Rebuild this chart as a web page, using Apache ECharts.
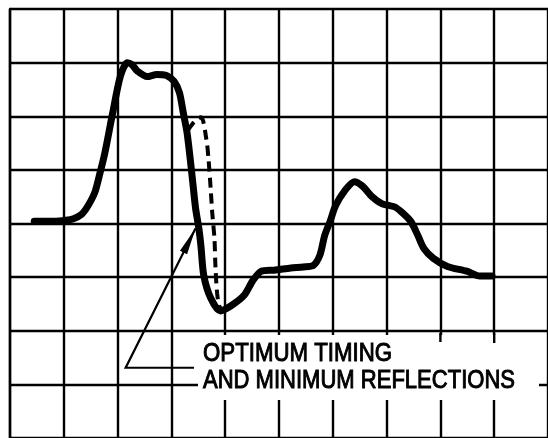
<!DOCTYPE html>
<html><head><meta charset="utf-8">
<script src="https://cdn.jsdelivr.net/npm/echarts@6/dist/echarts.min.js"></script>
<style>html,body{margin:0;padding:0;background:#fff;overflow:hidden}#c{width:548px;height:438px}</style>
</head><body><div id="c"></div>
<script>
// Solid trace (time in divisions, level in divisions)
const solidTime = [0.45,0.82,1.04,1.18,1.33,1.45,1.58,1.67,1.76,1.91,2.05,2.18,2.27,2.36,2.55,2.73,2.91,3.05,3.15,3.22,3.29,3.35,3.40,3.45,3.51,3.55,3.60,3.73,3.91,4.13,4.36,4.51,4.67,4.91,5.22,5.45,5.64,5.76,5.85,5.95,6.05,6.22,6.40,6.55,6.73,6.91,7.15,7.27,7.45,7.58,7.69,7.87,8.13,8.49,8.73,8.96];
const solidLevel = [4.04,4.04,4.06,4.09,4.17,4.33,4.59,4.93,5.30,6.07,6.74,7.00,6.96,6.85,6.74,6.78,6.76,6.65,6.44,6.07,5.70,5.20,4.74,4.28,3.91,3.57,3.04,2.61,2.37,2.48,2.67,2.93,3.11,3.13,3.17,3.19,3.22,3.41,3.78,4.04,4.33,4.61,4.78,4.70,4.50,4.37,4.31,4.22,4.04,3.78,3.54,3.35,3.20,3.11,3.02,3.02];
// Dashed trace
const dashedTime = [3.31,3.42,3.55,3.65,3.69,3.73,3.76,3.80,3.82,3.85,3.89,3.95];
const dashedLevel = [5.74,5.89,5.98,5.57,5.20,4.65,4.19,3.72,3.17,2.70,2.46,2.39];
// Annotation
const labelLines = ['OPTIMUM TIMING', 'AND MINIMUM REFLECTIONS'];
const arrowVertex = [2.15, 1.31];
const arrowTip = [3.45, 3.91];
const leaderEnd = [3.42, 1.31];

const chart = echarts.init(document.getElementById('c'), null, {renderer: 'canvas'});
const zip = (a, b) => a.map((x, i) => [x, b[i]]);
const gridLine = {color: '#000', width: 2.4};
chart.setOption({
  animation: false,
  backgroundColor: '#fff',
  grid: {left: 10, top: 9, width: 550, height: 432},
  xAxis: {type: 'value', min: 0, max: 10, interval: 1,
    axisLine: {show: false}, axisTick: {show: false}, axisLabel: {show: false},
    splitLine: {show: true, lineStyle: gridLine}},
  yAxis: {type: 'value', min: 0, max: 8, interval: 1,
    axisLine: {show: true, lineStyle: gridLine}, axisTick: {show: false}, axisLabel: {show: false},
    splitLine: {show: true, lineStyle: gridLine}},
  series: [
    {type: 'line', data: zip(dashedTime, dashedLevel), showSymbol: false, smooth: 0.3,
     lineStyle: {color: '#000', width: 4, type: [10, 6]}, z: 3},
    {type: 'line', data: zip(solidTime, solidLevel), showSymbol: false, smooth: 0.25,
     lineStyle: {color: '#000', width: 7, cap: 'round', join: 'round'}, z: 4}
  ]
});

const P = p => chart.convertToPixel({gridIndex: 0}, p);
const v = P(arrowVertex), t = P(arrowTip), e = P(leaderEnd);
const dx = t[0] - v[0], dy = t[1] - v[1], L = Math.hypot(dx, dy);
const ux = dx / L, uy = dy / L, hl = 27, hw = 4;
const bx = t[0] - ux * hl, by = t[1] - uy * hl;
const head = [[t[0], t[1]], [bx - uy * hw, by + ux * hw], [bx + uy * hw, by - ux * hw]];
const font = 'normal 26px "Liberation Sans", Arial, sans-serif';
const ctx = document.createElement('canvas').getContext('2d');
ctx.font = font;
const targetW = [189, 312];
const sx = labelLines.map((s, i) => targetW[i] / ctx.measureText(s).width);
const textStyle = {fill: '#000', stroke: '#000', lineWidth: 1, font: font, textVerticalAlign: 'top'};
chart.setOption({
  graphic: [
    {type: 'rect', z: 100, shape: {x: 198, y: 335, width: 341, height: 65}, style: {fill: '#fff'}},
    {type: 'line', z: 101, shape: {x1: P([8, 0])[0], y1: 333, x2: P([8, 0])[0], y2: 342}, style: {stroke: '#000', lineWidth: 2.4}},
    {type: 'line', z: 101, shape: {x1: P([9, 0])[0], y1: 333, x2: P([9, 0])[0], y2: 343}, style: {stroke: '#000', lineWidth: 2.4}},
    {type: 'polyline', z: 101, shape: {points: [[t[0], t[1]], v, e]}, style: {stroke: '#000', lineWidth: 2.2, fill: null}},
    {type: 'polygon', z: 101, shape: {points: head}, style: {fill: '#000'}},
    {type: 'text', z: 102, x: 203, y: 341, scaleX: sx[0], style: Object.assign({text: labelLines[0]}, textStyle)},
    {type: 'text', z: 102, x: 203, y: 368, scaleX: sx[1], style: Object.assign({text: labelLines[1]}, textStyle)}
  ]
});
</script>
</body></html>
